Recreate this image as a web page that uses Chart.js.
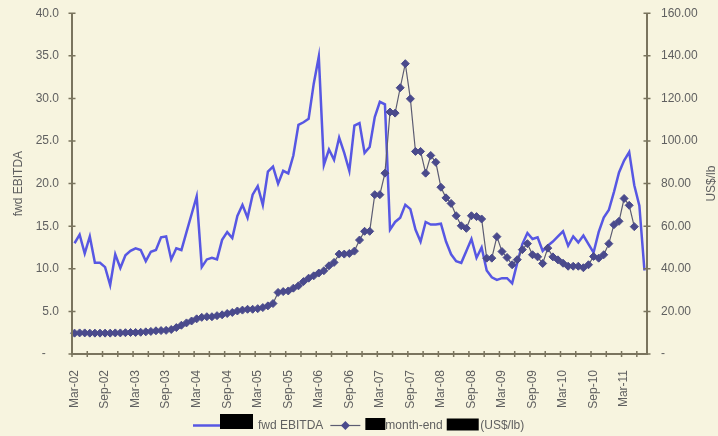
<!DOCTYPE html>
<html>
<head>
<meta charset="utf-8">
<script src="https://cdn.jsdelivr.net/npm/chart.js@4.4.1/dist/chart.umd.min.js"></script>
<style>
  html, body { margin: 0; padding: 0; background: #F7F4DF; }
  #wrap { width: 718px; height: 436px; position: relative; }
</style>
</head>
<body>
<div id="wrap"><canvas id="c" width="718" height="436"></canvas></div>
<script>
// Monthly categories, Mar-02 .. Jul-11
const monthNames = ['Jan','Feb','Mar','Apr','May','Jun','Jul','Aug','Sep','Oct','Nov','Dec'];
const categories = [];
for (let k = 0; k < 113; k++) {
  const m = (2 + k) % 12;
  const yr = 2002 + Math.floor((2 + k) / 12);
  categories.push(monthNames[m] + '-' + String(yr).slice(2));
}

// Forward EV/EBITDA multiple (left axis)
const ebitda = [
  13.0, 14.0, 11.8, 13.8, 10.7, 10.7, 10.2, 8.1, 11.7, 10.1,
  11.6, 12.1, 12.4, 12.2, 10.9, 12.0, 12.2, 13.7, 13.8, 11.1,
  12.4, 12.2, 14.3, 16.4, 18.5, 10.2, 11.1, 11.3, 11.1, 13.4,
  14.3, 13.6, 16.2, 17.5, 16.0, 18.7, 19.7, 17.5, 21.4, 22.0,
  20.0, 21.5, 21.2, 23.3, 26.9, 27.2, 27.6, 31.7, 34.9, 22.2,
  24.0, 22.8, 25.4, 23.6, 21.5, 26.8, 27.1, 23.6, 24.3, 27.8,
  29.6, 29.3, 14.6, 15.5, 16.0, 17.5, 17.0, 14.6, 13.2, 15.5,
  15.2, 15.2, 15.3, 13.2, 11.7, 10.9, 10.7, 12.1, 13.5, 11.3,
  12.5, 9.8, 9.0, 8.7, 8.9, 8.9, 8.3, 10.7, 12.9, 14.2,
  13.5, 13.7, 12.1, 12.7, 13.2, 13.8, 14.4, 12.7, 13.8, 13.1,
  13.9, 12.9, 11.9, 14.3, 16.0, 16.9, 19.0, 21.3, 22.7, 23.7,
  19.8, 17.4, 9.8
];

// Month-end spot price, US$/lb (right axis)
const price = [
  9.8, 9.9, 9.9, 9.8, 9.8, 9.8, 9.8, 9.8, 9.9, 9.9,
  10.0, 10.1, 10.1, 10.2, 10.4, 10.6, 10.9, 11.0, 11.1, 11.5,
  12.4, 13.5, 14.6, 15.5, 16.5, 17.2, 17.5, 17.5, 18.0, 18.4,
  19.0, 19.5, 20.2, 20.6, 21.0, 21.0, 21.3, 21.8, 22.6, 23.7,
  28.9, 29.3, 29.6, 30.9, 32.0, 34.0, 35.6, 36.7, 38.0, 39.1,
  41.4, 43.0, 46.9, 46.9, 47.2, 48.3, 53.5, 57.6, 57.6, 74.8,
  74.8, 84.9, 113.6, 113.1, 125.0, 136.3, 119.8, 95.1, 95.1, 84.9,
  93.2, 90.0, 78.3, 73.3, 70.7, 64.9, 60.2, 59.0, 64.9, 64.5,
  63.4, 45.0, 45.0, 55.1, 48.1, 45.3, 41.9, 44.3, 49.0, 51.8,
  46.6, 45.6, 42.5, 49.7, 45.6, 44.2, 42.6, 41.2, 41.2, 41.2,
  40.5, 41.9, 45.8, 45.0, 46.6, 51.8, 60.7, 62.3, 73.0, 69.8,
  59.8, null, null
];

// Axis tick labels
const leftTickLabels = ['-    ', '5.0', '10.0', '15.0', '20.0', '25.0', '30.0', '35.0', '40.0'];
const rightTickLabels = ['-', '20.00', '40.00', '60.00', '80.00', '100.00', '120.00', '140.00', '160.00'];

// Legend texts; blacked-out stretches of the labels are drawn as filled bars
const legendTexts = ['fwd EBITDA', 'month-end', '(US$/lb)'];
const axisTitles = ['fwd EBITDA', 'US$/lb'];

const BG = '#F7F4DF';
const AXIS = '#7a745e';
const TEXT = '#606060';
const BLUE = '#5757E3';
const MARK = '#4A4A8C';
const MARK_LINE = '#5c5c72';
const FONT = '"Liberation Sans", Arial, sans-serif';
const FS = 12;

function drawLegend(chart) {
  const ctx = chart.ctx;
  ctx.save();
  ctx.font = FS + 'px ' + FONT;
  ctx.textBaseline = 'middle';
  ctx.textAlign = 'left';
  const cy = 425.5;
  let x = 193;

  // entry 1: plain line swatch, bar, label
  ctx.strokeStyle = BLUE; ctx.lineWidth = 2.5;
  ctx.beginPath(); ctx.moveTo(x, cy); ctx.lineTo(x + 29, cy); ctx.stroke();
  x += 27;
  ctx.fillStyle = '#000';
  ctx.fillRect(x, cy - 11.5, 33, 15);
  x += 38;
  ctx.fillStyle = TEXT;
  ctx.fillText(legendTexts[0], x, cy);
  x += ctx.measureText(legendTexts[0]).width + 7;

  // entry 2: line with diamond marker, bar, label, bar, label
  ctx.strokeStyle = MARK_LINE; ctx.lineWidth = 1.2;
  ctx.beginPath(); ctx.moveTo(x, cy); ctx.lineTo(x + 30, cy); ctx.stroke();
  const mx = x + 15;
  ctx.fillStyle = MARK;
  ctx.beginPath(); ctx.moveTo(mx, cy - 4.5); ctx.lineTo(mx + 4.5, cy); ctx.lineTo(mx, cy + 4.5); ctx.lineTo(mx - 4.5, cy); ctx.closePath(); ctx.fill();
  x += 35;
  ctx.fillStyle = '#000';
  ctx.fillRect(x, cy - 7.5, 20, 12);
  x += 20;
  ctx.fillStyle = TEXT;
  ctx.fillText(legendTexts[1], x, cy);
  x += ctx.measureText(legendTexts[1]).width + 4;
  ctx.fillStyle = '#000';
  ctx.fillRect(x, cy - 7, 32, 12);
  x += 33.5;
  ctx.fillStyle = TEXT;
  ctx.fillText(legendTexts[2], x, cy);
  ctx.restore();
}

const framePlugin = {
  id: 'frame',
  beforeDraw(chart) {
    const ctx = chart.ctx;
    ctx.save();
    ctx.fillStyle = BG;
    ctx.fillRect(0, 0, chart.width, chart.height);
    ctx.restore();
  },
  afterDraw(chart) {
    const {ctx, chartArea: a, scales: {x, y, y1}} = chart;
    ctx.save();
    ctx.strokeStyle = AXIS;
    ctx.lineWidth = 2;
    ctx.beginPath();
    ctx.moveTo(a.left, a.top); ctx.lineTo(a.left, a.bottom); ctx.lineTo(a.right, a.bottom); ctx.lineTo(a.right, a.top);
    ctx.stroke();
    ctx.lineWidth = 1.5;
    ctx.beginPath();
    for (let k = 0; k <= categories.length; k += 3) {
      const px = x.getPixelForValue(k - 0.5);
      ctx.moveTo(px, a.bottom - 3); ctx.lineTo(px, a.bottom + 3);
    }
    y.ticks.forEach(t => {
      const py = y.getPixelForValue(t.value);
      ctx.moveTo(a.left - 3.5, py); ctx.lineTo(a.left + 3.5, py);
    });
    y1.ticks.forEach(t => {
      const py = y1.getPixelForValue(t.value);
      ctx.moveTo(a.right - 3.5, py); ctx.lineTo(a.right + 3.5, py);
    });
    ctx.stroke();

    // axis titles, both reading bottom to top
    ctx.fillStyle = TEXT;
    ctx.font = FS + 'px ' + FONT;
    ctx.textAlign = 'center';
    ctx.textBaseline = 'middle';
    const cy = (a.top + a.bottom) / 2;
    [[18.5, axisTitles[0]], [712, axisTitles[1]]].forEach(([tx, s]) => {
      ctx.save();
      ctx.translate(tx, cy);
      ctx.rotate(-Math.PI / 2);
      ctx.fillText(s, 0, 0);
      ctx.restore();
    });
    ctx.restore();
    drawLegend(chart);
  }
};

new Chart(document.getElementById('c'), {
  type: 'line',
  data: {
    labels: categories,
    datasets: [
      {
        label: 'fwd EBITDA',
        data: ebitda,
        yAxisID: 'y',
        borderColor: BLUE,
        borderWidth: 2.5,
        pointRadius: 0,
        tension: 0,
        order: 1
      },
      {
        label: 'month-end (US$/lb)',
        data: price,
        yAxisID: 'y1',
        borderColor: MARK_LINE,
        borderWidth: 1.2,
        pointStyle: 'rectRot',
        pointRadius: 4,
        pointBackgroundColor: MARK,
        pointBorderColor: MARK,
        pointBorderWidth: 1,
        tension: 0,
        spanGaps: false,
        order: 0
      }
    ]
  },
  options: {
    responsive: false,
    animation: false,
    events: [],
    layout: { padding: { top: 13, left: 0, right: 0, bottom: 0 } },
    scales: {
      x: {
        type: 'category',
        offset: true,
        grid: { display: false, offset: true },
        border: { display: false },
        ticks: {
          autoSkip: false,
          minRotation: 90,
          maxRotation: 90,
          padding: 8,
          color: TEXT,
          font: { family: FONT, size: FS },
          callback: (v, i) => (i % 6 === 0 ? categories[i] : '')
        },
        afterFit: s => { s.height = 82; }
      },
      y: {
        position: 'left',
        min: 0, max: 40,
        grid: { display: false },
        border: { display: false },
        ticks: {
          stepSize: 5,
          padding: 5,
          color: TEXT,
          font: { family: FONT, size: FS },
          callback: v => leftTickLabels[Math.round(v / 5)]
        },
        afterFit: s => { s.width = 72; }
      },
      y1: {
        position: 'right',
        min: 0, max: 160,
        grid: { display: false },
        border: { display: false },
        ticks: {
          stepSize: 20,
          padding: 6,
          color: TEXT,
          font: { family: FONT, size: FS },
          callback: v => rightTickLabels[Math.round(v / 20)]
        },
        afterFit: s => { s.width = 71; }
      }
    },
    plugins: {
      tooltip: { enabled: false },
      legend: { display: false }
    }
  },
  plugins: [framePlugin]
});
</script>
</body>
</html>
